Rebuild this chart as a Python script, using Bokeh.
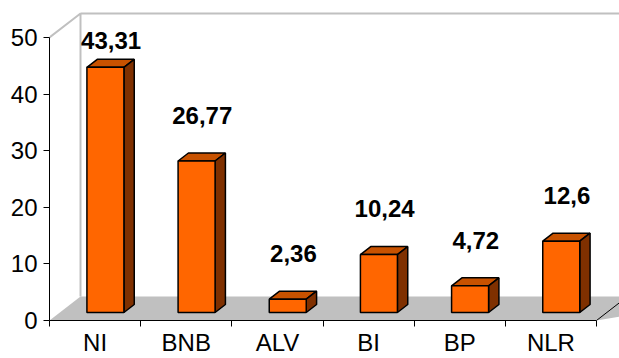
from bokeh.plotting import figure
from bokeh.models import Range1d, FixedTicker, ColumnDataSource
from bokeh.core.properties import value
from bokeh.embed import file_html
from bokeh.resources import INLINE

categories = ["NI", "BNB", "ALV", "BI", "BP", "NLR"]
values = [43.31, 26.77, 2.36, 10.24, 4.72, 12.6]
value_labels = ["43,31", "26,77", "2,36", "10,24", "4,72", "12,6"]
y_ticks = [0, 10, 20, 30, 40, 50]

W, H = 619, 358
B_LEFT, B_BOTTOM = 49, 38
frame_w = W - B_LEFT
frame_h = H - B_BOTTOM
px_x = 547 / 6.0      # pixels per category
px_y = 283 / 50.0     # pixels per unit

x0 = -0.5
p = figure(width=W, height=H,
           x_range=Range1d(x0, x0 + frame_w / px_x),
           y_range=Range1d(0, frame_h / px_y),
           output_backend="svg", toolbar_location=None,
           min_border_left=B_LEFT, min_border_right=0,
           min_border_top=0, min_border_bottom=B_BOTTOM)
p.outline_line_color = None
p.xgrid.visible = False
p.ygrid.visible = False
p.background_fill_color = "white"

FONT = "Liberation Sans"
FS = "24px"
n = len(categories)
xmax = x0 + frame_w / px_x + 1

# 3D depth vector (data units)
DX = 31 / px_x
DY = 24 / px_y
f0, f1 = 1 / 3, 2 / 3
bw = 37 / px_x

# floor
p.patch([x0, x0 + DX, xmax + DX, x0 + n], [0, DY, DY, 0],
        fill_color="#C0C0C0", line_color=None)
p.line([x0 + n, x0 + n + DX], [0, DY], line_color="black", line_width=1)

# walls
p.line([x0, x0 + DX, x0 + DX], [50, 50 + DY, DY], line_color="#C0C0C0", line_width=2)
p.line([x0 + DX, xmax], [50 + DY, 50 + DY], line_color="#C0C0C0", line_width=2)

# bars
sdx = (f1 - f0) * DX
sdy = (f1 - f0) * DY
front_l, front_r, front_b, front_t = [], [], [], []
top_xs, top_ys, side_xs, side_ys = [], [], [], []
for i, v in enumerate(values):
    L = i - bw / 2 + f0 * DX
    R = i + bw / 2 + f0 * DX
    Bt = f0 * DY
    T = v + Bt
    front_l.append(L); front_r.append(R); front_b.append(Bt); front_t.append(T)
    top_xs.append([L, R, R + sdx, L + sdx])
    top_ys.append([T, T, T + sdy, T + sdy])
    side_xs.append([R, R, R + sdx, R + sdx])
    side_ys.append([Bt, T, T + sdy, Bt + sdy])

p.patches(top_xs, top_ys, fill_color="#C85200", line_color="black", line_width=1.5)
p.patches(side_xs, side_ys, fill_color="#7F3000", line_color="black", line_width=1.5)
p.quad(left=front_l, right=front_r, bottom=front_b, top=front_t,
       fill_color="#FF6600", line_color="black", line_width=1.5)

# data labels
lbl_y = [min(v + 9.5, 49.5) for v in values]
src = ColumnDataSource(dict(x=list(range(n)), y=lbl_y, t=value_labels))
p.text(x="x", y="y", text="t", source=src, x_offset=16,
       text_align="center", text_baseline="middle",
       text_font=value(FONT), text_font_style="bold",
       text_font_size=FS, text_color="black")

# axes
p.yaxis.ticker = FixedTicker(ticks=y_ticks)
p.yaxis.bounds = (0, 50)
p.yaxis.major_tick_out = 6
p.yaxis.major_tick_in = 0
p.yaxis.minor_tick_out = 0
p.yaxis.minor_tick_in = 0
p.yaxis.major_label_standoff = 6
p.yaxis.major_label_text_font = FONT
p.yaxis.major_label_text_font_size = FS
p.yaxis.major_label_text_color = "black"
p.yaxis.axis_line_color = "black"

p.xaxis.ticker = FixedTicker(ticks=list(range(n)),
                             minor_ticks=[x0 + k for k in range(n + 1)])
p.xaxis.bounds = (x0, x0 + n)
p.xaxis.major_label_overrides = {i: c for i, c in enumerate(categories)}
p.xaxis.major_tick_out = 0
p.xaxis.major_tick_in = 0
p.xaxis.minor_tick_out = 6
p.xaxis.minor_tick_in = 0
p.xaxis.major_label_standoff = 2
p.xaxis.major_label_text_font = FONT
p.xaxis.major_label_text_font_size = FS
p.xaxis.major_label_text_color = "black"
p.xaxis.axis_line_color = "black"

open("out.html", "w").write(file_html(p, INLINE))
